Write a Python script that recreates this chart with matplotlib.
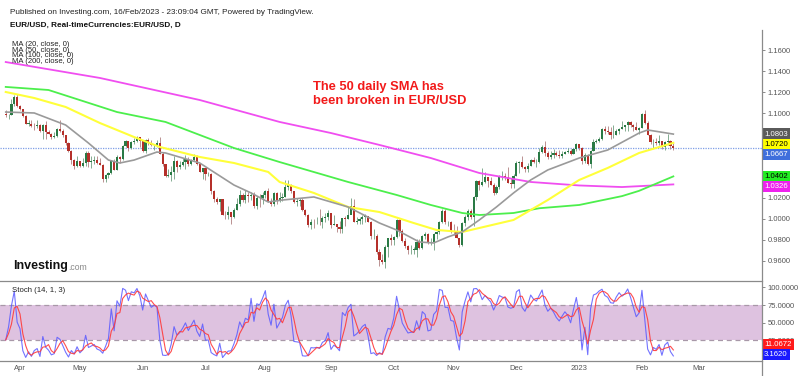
#!/usr/bin/env python3
"""
EUR/USD daily candles with 20/50/100/200 SMAs and Stoch(14,1,3)
"""

import numpy as np
import pandas as pd
import matplotlib
matplotlib.use("Agg")
import matplotlib.pyplot as plt
from matplotlib.lines import Line2D
from matplotlib.ticker import FormatStrFormatter

plt.rcParams['font.family'] = ['Liberation Sans', 'DejaVu Sans']

W, H = 800, 376

# ---- daily EUR/USD bars, 25 Mar 2022 .. 16 Feb 2023 (open = previous close) ----
first_open = 1.0995
closes = [
    1.0983, 1.0985, 1.1087, 1.1158, 1.1067,
    1.1045, 1.0970, 1.0903, 1.0903, 1.0878, 1.0877, 1.0887, 1.0829, 1.0890, 1.0826, 1.0808,
    1.0780, 1.0787, 1.0853, 1.0836, 1.0799, 1.0715, 1.0640, 1.0560, 1.0497, 1.0545,
    1.0505, 1.0525, 1.0620, 1.0540, 1.0550, 1.0560, 1.0530, 1.0513, 1.0380, 1.0413, 1.0435,
    1.0552, 1.0462, 1.0585, 1.0563, 1.0690, 1.0734, 1.0675, 1.0725, 1.0733, 1.0780, 1.0735,
    1.0647, 1.0750, 1.0719, 1.0695, 1.0704, 1.0716, 1.0615, 1.0517, 1.0410, 1.0415, 1.0445,
    1.0550, 1.0495, 1.0510, 1.0535, 1.0567, 1.0522, 1.0553, 1.0583, 1.0518, 1.0443, 1.0483,
    1.0425, 1.0425, 1.0265, 1.0183, 1.0160, 1.0185, 1.0040, 1.0035, 1.0060, 1.0020, 1.0085,
    1.0140, 1.0225, 1.0180, 1.0230, 1.0212, 1.0225, 1.0120, 1.0200, 1.0195, 1.0225,
    1.0260, 1.0165, 1.0140, 1.0245, 1.0180, 1.0195, 1.0210, 1.0300, 1.0320, 1.0260, 1.0160,
    1.0170, 1.0180, 1.0085, 1.0040, 0.9942, 0.9970, 0.9968, 0.9972, 0.9965, 1.0005, 1.0015, 1.0055,
    0.9945, 0.9955, 0.9925, 0.9900, 1.0010, 1.0000, 1.0040, 1.0120, 0.9970, 0.9980, 0.9995,
    1.0015, 1.0025, 0.9970, 0.9835, 0.9840, 0.9690, 0.9605, 0.9590, 0.9735, 0.9815, 0.9800,
    0.9825, 0.9985, 0.9885, 0.9790, 0.9740, 0.9700, 0.9705, 0.9705, 0.9780, 0.9720, 0.9840,
    0.9860, 0.9775, 0.9780, 0.9860, 0.9875, 0.9965, 1.0075, 0.9965, 0.9965, 0.9880,
    0.9875, 0.9820, 0.9750, 0.9960, 1.0020, 1.0070, 1.0015, 1.0210, 1.0355, 1.0325, 1.0350,
    1.0395, 1.0360, 1.0325, 1.0240, 1.0305, 1.0395, 1.0405, 1.0400, 1.0340, 1.0330, 1.0405,
    1.0525, 1.0535, 1.0490, 1.0470, 1.0505, 1.0555, 1.0535, 1.0535, 1.0630, 1.0680, 1.0625,
    1.0585, 1.0605, 1.0620, 1.0605, 1.0595, 1.0615, 1.0635, 1.0640, 1.0615, 1.0660, 1.0705,
    1.0670, 1.0545, 1.0605, 1.0520, 1.0645, 1.0730, 1.0735, 1.0760, 1.0855, 1.0830, 1.0820,
    1.0790, 1.0795, 1.0830, 1.0855, 1.0870, 1.0885, 1.0915, 1.0890, 1.0870, 1.0845, 1.0865,
    1.0990, 1.0910, 1.0795, 1.0725, 1.0725, 1.0715, 1.0740, 1.0680, 1.0725, 1.0740, 1.0690, 1.0667,
]
highs = [
    1.1035, 1.0995, 1.1137, 1.1170, 1.1185,
    1.1075, 1.1045, 1.0980, 1.0935, 1.0935, 1.0905, 1.0935, 1.0900, 1.0900, 1.0925, 1.0845,
    1.0815, 1.0825, 1.0865, 1.0935, 1.0855, 1.0780, 1.0725, 1.0655, 1.0570, 1.0595,
    1.0545, 1.0580, 1.0640, 1.0640, 1.0595, 1.0600, 1.0595, 1.0580, 1.0515, 1.0425, 1.0445,
    1.0560, 1.0565, 1.0605, 1.0600, 1.0695, 1.0750, 1.0740, 1.0735, 1.0765, 1.0787, 1.0775,
    1.0735, 1.0755, 1.0765, 1.0750, 1.0710, 1.0750, 1.0775, 1.0630, 1.0485, 1.0475, 1.0505,
    1.0600, 1.0560, 1.0545, 1.0580, 1.0605, 1.0590, 1.0570, 1.0615, 1.0605, 1.0525, 1.0485,
    1.0485, 1.0445, 1.0435, 1.0275, 1.0210, 1.0190, 1.0145, 1.0070, 1.0120, 1.0065, 1.0100,
    1.0200, 1.0270, 1.0245, 1.0275, 1.0255, 1.0255, 1.0250, 1.0215, 1.0235, 1.0255,
    1.0275, 1.0295, 1.0195, 1.0255, 1.0255, 1.0250, 1.0245, 1.0370, 1.0365, 1.0330, 1.0265,
    1.0200, 1.0200, 1.0200, 1.0090, 1.0045, 0.9995, 0.9995, 1.0015, 1.0090, 1.0030, 1.0055, 1.0080,
    1.0055, 1.0035, 0.9945, 0.9975, 1.0010, 1.0030, 1.0110, 1.0200, 1.0185, 1.0020, 1.0015,
    1.0035, 1.0050, 1.0020, 0.9975, 0.9905, 0.9855, 0.9710, 0.9670, 0.9750, 0.9815, 0.9855,
    0.9840, 0.9999, 0.9995, 0.9905, 0.9815, 0.9750, 0.9750, 0.9730, 0.9810, 0.9805, 0.9850,
    0.9875, 0.9865, 0.9820, 0.9870, 0.9880, 0.9975, 1.0095, 1.0090, 0.9980, 0.9975,
    0.9955, 0.9935, 0.9820, 0.9965, 1.0035, 1.0095, 1.0095, 1.0220, 1.0365, 1.0365, 1.0480,
    1.0440, 1.0395, 1.0400, 1.0335, 1.0320, 1.0415, 1.0450, 1.0435, 1.0495, 1.0385, 1.0420,
    1.0545, 1.0545, 1.0595, 1.0505, 1.0530, 1.0565, 1.0590, 1.0565, 1.0675, 1.0695, 1.0735,
    1.0640, 1.0640, 1.0665, 1.0640, 1.0655, 1.0640, 1.0645, 1.0670, 1.0665, 1.0675, 1.0715,
    1.0710, 1.0685, 1.0620, 1.0615, 1.0650, 1.0760, 1.0760, 1.0775, 1.0865, 1.0875, 1.0875,
    1.0870, 1.0885, 1.0850, 1.0860, 1.0925, 1.0890, 1.0925, 1.0930, 1.0900, 1.0915, 1.0870,
    1.1000, 1.1033, 1.0925, 1.0800, 1.0755, 1.0765, 1.0795, 1.0740, 1.0740, 1.0805, 1.0745, 1.0720,
]
lows = [
    1.0965, 1.0945, 1.0980, 1.1070, 1.1060,
    1.1030, 1.0965, 1.0900, 1.0875, 1.0870, 1.0840, 1.0865, 1.0820, 1.0760, 1.0760, 1.0800,
    1.0760, 1.0770, 1.0780, 1.0825, 1.0775, 1.0695, 1.0635, 1.0515, 1.0470, 1.0490,
    1.0490, 1.0490, 1.0505, 1.0490, 1.0485, 1.0520, 1.0520, 1.0510, 1.0350, 1.0350, 1.0390,
    1.0425, 1.0460, 1.0460, 1.0530, 1.0555, 1.0680, 1.0645, 1.0660, 1.0705, 1.0725, 1.0680,
    1.0630, 1.0625, 1.0700, 1.0690, 1.0655, 1.0680, 1.0610, 1.0505, 1.0395, 1.0395, 1.0360,
    1.0380, 1.0445, 1.0475, 1.0505, 1.0470, 1.0500, 1.0510, 1.0545, 1.0510, 1.0440, 1.0380,
    1.0365, 1.0405, 1.0235, 1.0160, 1.0145, 1.0070, 1.0035, 0.9998, 0.9998, 0.9952, 1.0005,
    1.0085, 1.0125, 1.0160, 1.0150, 1.0160, 1.0180, 1.0105, 1.0095, 1.0110, 1.0145,
    1.0195, 1.0160, 1.0125, 1.0125, 1.0140, 1.0160, 1.0165, 1.0205, 1.0275, 1.0245, 1.0150,
    1.0125, 1.0125, 1.0075, 1.0030, 0.9925, 0.9900, 0.9910, 0.9950, 0.9945, 0.9915, 0.9965, 0.9985,
    0.9910, 0.9945, 0.9875, 0.9865, 0.9865, 0.9930, 0.9995, 1.0050, 0.9965, 0.9955, 0.9955,
    0.9955, 0.9965, 0.9965, 0.9810, 0.9810, 0.9670, 0.9555, 0.9570, 0.9535, 0.9635, 0.9750,
    0.9755, 0.9815, 0.9835, 0.9780, 0.9725, 0.9670, 0.9665, 0.9670, 0.9635, 0.9710, 0.9715,
    0.9805, 0.9760, 0.9755, 0.9705, 0.9810, 0.9855, 0.9960, 0.9950, 0.9930, 0.9870,
    0.9850, 0.9815, 0.9730, 0.9745, 0.9935, 0.9985, 1.0000, 0.9935, 1.0175, 1.0270, 1.0315,
    1.0335, 1.0300, 1.0320, 1.0225, 1.0235, 1.0285, 1.0370, 1.0365, 1.0335, 1.0290, 1.0290,
    1.0405, 1.0430, 1.0480, 1.0440, 1.0445, 1.0500, 1.0525, 1.0495, 1.0525, 1.0625, 1.0595,
    1.0570, 1.0570, 1.0575, 1.0595, 1.0575, 1.0580, 1.0610, 1.0620, 1.0605, 1.0610, 1.0645,
    1.0655, 1.0520, 1.0530, 1.0510, 1.0483, 1.0645, 1.0715, 1.0725, 1.0750, 1.0805, 1.0800,
    1.0760, 1.0765, 1.0790, 1.0800, 1.0855, 1.0835, 1.0835, 1.0870, 1.0835, 1.0845, 1.0800,
    1.0860, 1.0895, 1.0795, 1.0710, 1.0670, 1.0695, 1.0695, 1.0665, 1.0655, 1.0700, 1.0660, 1.0655,
]

ma20_bars = [0, 10, 21, 29, 36, 40, 45, 53, 56, 68, 80, 86, 92, 97, 108, 120, 131, 137,
             145, 150, 155, 160, 166, 172, 178, 184, 190, 201, 211, 222, 225, 234]
ma20_vals = [1.1012, 1.1003, 1.0889, 1.0718, 1.0557, 1.0529, 1.0557, 1.0633, 1.0624, 1.0529,
             1.0320, 1.0245, 1.0159, 1.0178, 1.0207, 1.0112, 0.9960, 0.9894, 0.9780, 0.9771,
             0.9828, 0.9875, 0.9989, 1.0112, 1.0245, 1.0368, 1.0463, 1.0576, 1.0652, 1.0813,
             1.0842, 1.0803]
ma50_bars = [0, 10, 21, 33, 45, 54, 68, 80, 92, 96, 108, 120, 131, 143, 151, 160, 166,
             178, 190, 201, 211, 222, 234]
ma50_vals = [1.1202, 1.1145, 1.1060, 1.0908, 1.0775, 1.0681, 1.0586, 1.0529, 1.0444, 1.0349,
             1.0245, 1.0112, 1.0064, 0.9960, 0.9894, 0.9875, 0.9913, 0.9989, 1.0178, 1.0368,
             1.0482, 1.0624, 1.0720]
ma100_bars = [0, 15, 39, 56, 80, 96, 120, 137, 149, 160, 166, 178, 187, 201, 216, 222, 234]
ma100_vals = [1.1250, 1.1221, 1.1012, 1.0918, 1.0671, 1.0538, 1.0349, 1.0226, 1.0131, 1.0055,
              1.0036, 1.0055, 1.0100, 1.0131, 1.0215, 1.0265, 1.0402]
ma200_bars = [0, 33, 68, 96, 114, 131, 149, 166, 184, 201, 216, 234]
ma200_vals = [1.1486, 1.1335, 1.1126, 1.0918, 1.0813, 1.0700, 1.0576, 1.0434, 1.0349, 1.0316,
              1.0301, 1.0326]

ma_names = ['MA (20, close, 0)', 'MA (50, close, 0)', 'MA (100, close, 0)', 'MA (200, close, 0)']

# 1.04 / 1.06 / 1.08 sit under the value tags, so they are not shown
price_ticks = [0.96, 0.98, 1.00, 1.02, 1.10, 1.12, 1.14, 1.16]
stoch_ticks = [25, 50, 75, 100]
month_names = ['Apr', 'May', 'Jun', 'Jul', 'Aug', 'Sep', 'Oct', 'Nov', 'Dec', '2023', 'Feb', 'Mar']

stoch_k_last = 3.1620
stoch_d_last = 11.0672


def px_axes(fig, left, top, right, bottom):
    return fig.add_axes([left / W, 1 - bottom / H, (right - left) / W, (bottom - top) / H])


def side_label(ax, value, text, face, fg, dy):
    ax.annotate(text, xy=(1, value), xycoords=ax.get_yaxis_transform(),
                xytext=(2, dy), textcoords='offset pixels', ha='left', va='center',
                fontsize=5.6, color=fg, annotation_clip=False, zorder=10,
                bbox=dict(boxstyle='square,pad=0.28', fc=face, ec='none'))


def main():
    n = len(closes)
    x = np.arange(n)
    c = np.array(closes)
    o = np.array([first_open] + closes[:-1])
    h = np.array(highs)
    l = np.array(lows)

    dates = pd.bdate_range('2022-03-25', '2023-03-31')
    months = pd.Series(dates.to_period('M'))
    first_bars = months.drop_duplicates().index[1:13]

    # Stochastic (14, 1, 3)
    hh = pd.Series(h).rolling(14, min_periods=1).max()
    ll = pd.Series(l).rolling(14, min_periods=1).min()
    k = 100 * (pd.Series(c) - ll) / (hh - ll)
    d = k.rolling(3, min_periods=1).mean()

    fig = plt.figure(figsize=(W / 100, H / 100), dpi=100)
    xlim = (-2.01, 265.08)

    # ---- price panel ----
    ax = px_axes(fig, 0, 30, 762, 281)
    ax.set_xlim(*xlim)
    ax.set_ylim(0.94104, 1.17896)
    for s in ax.spines.values():
        s.set_visible(False)
    ax.set_xticks([])
    ax.yaxis.tick_right()
    ax.set_yticks(price_ticks)
    ax.yaxis.set_major_formatter(FormatStrFormatter('%.4f'))
    ax.tick_params(axis='y', length=2.5, width=0.6, color='#777', labelsize=5.5,
                   labelcolor='#555', pad=1.5)

    up = c >= o
    body_col = np.where(up, '#2a7a45', '#b5302a')
    wick_col = np.where(up, '#6f9f80', '#b08080')
    ax.vlines(x, l, h, colors=wick_col, lw=0.6, zorder=2)
    ax.bar(x, np.maximum(np.abs(c - o), 0.0004), bottom=np.minimum(o, c), width=0.75,
           color=body_col, lw=0, zorder=3)

    ax.axhline(c[-1], color='#7f9fe6', ls=(0, (1, 1)), lw=0.9, zorder=1)

    ax.plot(ma200_bars, ma200_vals, color='#f04ef0', lw=1.3, zorder=4)
    ax.plot(ma100_bars, ma100_vals, color='#4cef4c', lw=1.3, zorder=4)
    ax.plot(ma50_bars, ma50_vals, color='#ffff3a', lw=1.5, zorder=5)
    ax.plot(ma20_bars, ma20_vals, color='#9a9a9a', lw=1.2, zorder=5)

    side_label(ax, ma20_vals[-1], f'{ma20_vals[-1]:.4f}', '#5a5a5a', 'white', 0)
    side_label(ax, ma50_vals[-1], f'{ma50_vals[-1]:.4f}', '#ffff00', 'black', -1.5)
    side_label(ax, c[-1], f'{c[-1]:.4f}', '#3f6fdc', 'white', -6)
    side_label(ax, ma100_vals[-1], f'{ma100_vals[-1]:.4f}', '#22ee22', 'black', 0)
    side_label(ax, ma200_vals[-1], f'{ma200_vals[-1]:.4f}', '#ee22ee', 'white', -2)

    # ---- stochastic panel ----
    sx = px_axes(fig, 0, 281, 762, 361)
    sx.set_xlim(*xlim)
    sx.set_ylim(-4.0, 109.0)
    sx.spines['left'].set_visible(False)
    sx.spines['right'].set_visible(False)
    for side in ('top', 'bottom'):
        sx.spines[side].set_color('#8a8a8a')
        sx.spines[side].set_linewidth(0.9)
    sx.axhspan(25, 75, color='#dec2e0', lw=0, zorder=0)
    for lvl in (25, 75):
        sx.axhline(lvl, color='#a898a8', ls=(0, (4, 3)), lw=0.9, zorder=1)
    sx.plot(x, k, color='#5a5aff', lw=0.8, alpha=0.85, zorder=3)
    sx.plot(x, d, color='#ff3a3a', lw=0.8, alpha=0.9, zorder=4)
    sx.yaxis.tick_right()
    sx.set_yticks(stoch_ticks)
    sx.yaxis.set_major_formatter(FormatStrFormatter('%.4f'))
    sx.tick_params(axis='y', length=2.5, width=0.6, color='#777', labelsize=5.5,
                   labelcolor='#555', pad=1.5)
    sx.set_xticks(first_bars)
    sx.set_xticklabels(month_names)
    sx.tick_params(axis='x', length=0, labelsize=5.5, labelcolor='#555', pad=3)
    side_label(sx, stoch_d_last, f'{stoch_d_last:.4f}', '#ff1a1a', 'white', 6)
    side_label(sx, stoch_k_last, f'{stoch_k_last:.4f}', '#1a1aff', 'white', 1.5)

    fig.text(12 / W, 1 - 291 / H, 'Stoch (14, 1, 3)', fontsize=5.6, color='#222', va='center')

    # right-hand axis line
    fig.add_artist(Line2D([762 / W, 762 / W], [1 - 30 / H, 0], color='#8a8a8a', lw=0.9))

    # ---- header and notes ----
    fig.text(10 / W, 1 - 12 / H,
             'Published on Investing.com, 16/Feb/2023 - 23:09:04 GMT, Powered by TradingView.',
             fontsize=5.9, color='#222', va='center')
    fig.text(10 / W, 1 - 25 / H, 'EUR/USD, Real-timeCurrencies:EUR/USD, D',
             fontsize=5.9, fontweight='bold', color='#111', va='center')
    for i, name in enumerate(ma_names):
        fig.text(12 / W, 1 - (44.3 + 5.7 * i) / H, name, fontsize=5.5, color='#222',
                 va='center', zorder=10)

    fig.text(313 / W, 1 - 94 / H, 'The 50 daily SMA has\nbeen broken in EUR/USD',
             fontsize=9.3, fontweight='bold', color='#f21a1a', va='center', ha='left',
             linespacing=1.3)

    fig.text(13 / W, 1 - 266 / H, 'Investing', fontsize=9, fontweight='bold',
             color='#111', va='center')
    fig.text(68 / W, 1 - 267 / H, '.com', fontsize=6.2, color='#888', va='center')

    fig.savefig('out.png', dpi=100)
    plt.close(fig)


if __name__ == "__main__":
    main()
